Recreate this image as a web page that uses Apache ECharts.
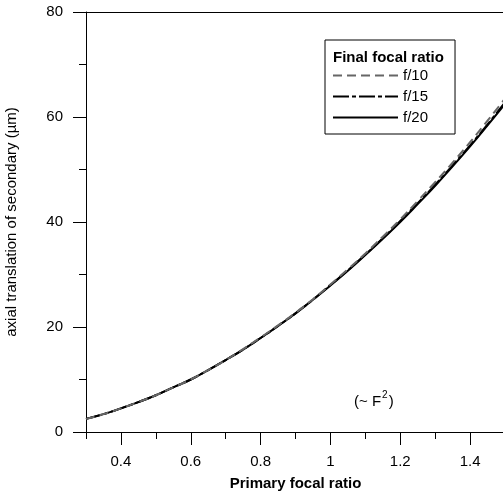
<!DOCTYPE html>
<html><head><meta charset="utf-8">
<script src="https://cdn.jsdelivr.net/npm/echarts@6/dist/echarts.min.js"></script>
<style>html,body{margin:0;padding:0;background:#fff}#c{width:503px;height:498px}</style>
</head><body><div id="c"></div>
<script>
const focalRatio = [0.3,0.35,0.4,0.45,0.5,0.55,0.6,0.65,0.7,0.75,0.8,0.85,0.9,0.95,1.0,1.05,1.1,1.15,1.2,1.25,1.3,1.35,1.4,1.45,1.5];
const f10 = [2.5,3.4,4.5,5.7,7.0,8.5,10.0,11.8,13.7,15.8,18.0,20.3,22.7,25.3,28.1,31.0,34.0,37.2,40.5,44.0,47.6,51.3,55.2,59.3,63.5];
const f15 = [2.5,3.4,4.5,5.7,7.0,8.5,10.0,11.8,13.7,15.7,17.9,20.2,22.6,25.2,28.0,30.8,33.8,36.9,40.2,43.6,47.1,50.8,54.6,58.6,62.8];
const f20 = [2.5,3.4,4.5,5.7,7.0,8.5,10.0,11.8,13.7,15.7,17.9,20.2,22.6,25.2,27.9,30.7,33.7,36.8,40.0,43.4,46.9,50.6,54.4,58.4,62.5];
const xMajorTicks = [0.4,0.6,0.8,1.0,1.2,1.4];
const xMinorTicks = [0.3,0.5,0.7,0.9,1.1,1.3,1.5];
const seriesNames = ['f/10','f/15','f/20'];
const FONT = 'Liberation Sans, Arial, sans-serif';
const chart = echarts.init(document.getElementById('c'));
const pair = (ys) => focalRatio.map((x,i)=>[x, ys[i]]);
chart.setOption({
  animation:false,
  backgroundColor:'#fff',
  textStyle:{fontFamily:FONT},
  grid:{left:86, top:12, width:419, height:420, containLabel:false, outerBoundsMode:'none'},
  xAxis:[
    {type:'value', min:0.3, max:1.5, position:'bottom',
     axisLine:{show:true, lineStyle:{color:'#000', width:1}},
     axisTick:{show:true, inside:false, length:13, customValues:xMajorTicks, lineStyle:{color:'#000'}},
     axisLabel:{show:true, customValues:xMajorTicks, margin:22, fontSize:15, color:'#000', fontFamily:FONT,
       formatter:(v)=>String(Math.round(v*10)/10)},
     splitLine:{show:false},
     name:'Primary focal ratio', nameLocation:'middle', nameGap:44,
     nameTextStyle:{fontSize:15, fontWeight:'bold', color:'#000', fontFamily:FONT}},
    {type:'value', min:0.3, max:1.5, position:'bottom', gridIndex:0,
     axisLine:{show:false},
     axisTick:{show:true, inside:false, length:7, customValues:xMinorTicks, lineStyle:{color:'#000'}},
     axisLabel:{show:false}, splitLine:{show:false}},
    {type:'value', min:0.3, max:1.5, position:'top', gridIndex:0,
     axisLine:{show:true, lineStyle:{color:'#000', width:1}},
     axisTick:{show:false}, axisLabel:{show:false}, splitLine:{show:false}}
  ],
  yAxis:{type:'value', min:0, max:80, interval:20,
    axisLine:{show:true, lineStyle:{color:'#000', width:1}},
    axisTick:{show:true, inside:false, length:13, lineStyle:{color:'#000'}},
    minorTick:{show:true, splitNumber:2, length:7, lineStyle:{color:'#000'}},
    axisLabel:{margin:23, fontSize:15, color:'#000', fontFamily:FONT},
    splitLine:{show:false},
    name:'axial translation of secondary (µm)', nameLocation:'middle', nameGap:67,
    nameTextStyle:{fontSize:15, color:'#000', fontFamily:FONT}},
  legend:{
    show:true,
    data:seriesNames, orient:'vertical', left:325, top:40,
    backgroundColor:'#fff', borderColor:'#000', borderWidth:1,
    padding:[28, 27, 9, 7], itemGap:6, itemWidth:65, itemHeight:14,
    itemStyle:{opacity:0, color:'rgba(0,0,0,0)', borderWidth:0},
    textStyle:{fontSize:15, color:'#000', fontFamily:FONT}
  },
  graphic:[
    {type:'text', left:333, top:50, z:100,
     style:{text:'Final focal ratio', fontSize:15, fontWeight:'bold', fill:'#000', fontFamily:FONT}},
    {type:'text', left:354, top:390, z:100,
     style:{rich:{n:{fontSize:15, fontFamily:FONT, fill:'#000'}, s:{fontSize:10, fontFamily:FONT, fill:'#000', padding:[0,1,13,1]}},
       text:'{n|(~ F}{s|2}{n|)}', fill:'#000'}}
  ],
  series:[
    {name:'f/20', type:'line', data:pair(f20), smooth:true, showSymbol:false, symbol:'none', z:2,
     lineStyle:{color:'#000', width:2, type:'solid'}, itemStyle:{color:'#000'}},
    {name:'f/15', type:'line', data:pair(f15), smooth:true, showSymbol:false, symbol:'none', z:3,
     lineStyle:{color:'#000', width:2, type:[16,3,4,3]}, itemStyle:{color:'#000'}},
    {name:'f/10', type:'line', data:pair(f10), smooth:true, showSymbol:false, symbol:'none', z:4,
     lineStyle:{color:'#666', width:2, type:[9,5]}, itemStyle:{color:'#666'}}
  ]
});
</script></body></html>
